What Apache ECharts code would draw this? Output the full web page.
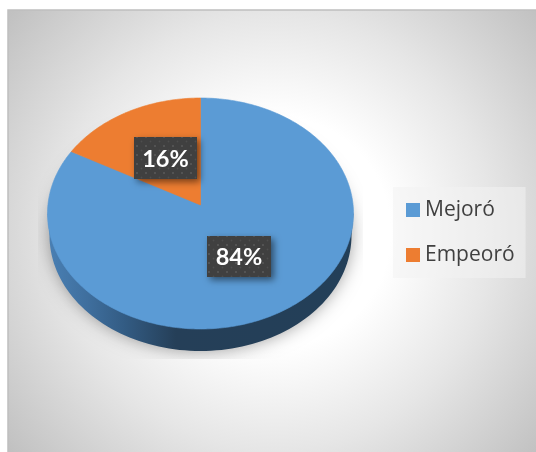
<!DOCTYPE html>
<html><head><meta charset="utf-8">
<style>html,body{margin:0;padding:0;background:#fff}#c{width:536px;height:452px}</style>
<script src="https://cdn.jsdelivr.net/npm/echarts@6/dist/echarts.min.js"></script>
</head><body><div id="c"></div>
<script>
const categories = ['Mejoró', 'Empeoró'];
const values = [84, 16];
const colors = ['#5b9bd5', '#ed7d31'];

const total = values.reduce((a, b) => a + b, 0);
const G = { cx: 200.5, cy: 213.5, rx: 153, ry: 115.5, ax: 200.5, ay: 205, wallCy: 235.5, wallRx: 151 };
const LABEL_BOX = [{ x: 207, y: 236, w: 64, h: 41 }, { x: 134, y: 137, w: 63, h: 42 }];

const tile = document.createElement('canvas');
tile.width = tile.height = 9;
(function () {
  const t = tile.getContext('2d');
  t.fillStyle = '#404040'; t.fillRect(0, 0, 9, 9);
  t.fillStyle = '#585858'; t.beginPath(); t.arc(2, 2, 1.1, 0, 7); t.fill();
  t.fillStyle = '#4e4e4e'; t.beginPath(); t.arc(6.5, 6.5, 0.9, 0, 7); t.fill();
})();

function topPoint(frac) {
  const a = frac * 2 * Math.PI;
  return [G.cx + G.rx * Math.sin(a), G.cy - G.ry * Math.cos(a)];
}
function renderSlice(index) {
  return function (params, api) {
    const before = values.slice(0, index).reduce((a, b) => a + b, 0);
    const val = api.value(0);
    const pts = [[G.ax, G.ay]];
    const steps = Math.max(8, Math.round(val * 4));
    for (let i = 0; i <= steps; i++) pts.push(topPoint((before + val * i / steps) / total));
    const b = LABEL_BOX[index];
    const col = api.visual('color');
    return {
      type: 'group',
      children: [
        { type: 'polygon', shape: { points: pts }, style: { fill: col, stroke: col, lineWidth: 0.6 } },
        { type: 'rect', shape: { x: b.x, y: b.y, width: b.w, height: b.h },
          style: { fill: { image: tile, repeat: 'repeat' }, shadowBlur: 7, shadowColor: 'rgba(0,0,0,0.5)', shadowOffsetX: 3, shadowOffsetY: 3 } },
        { type: 'text', x: b.x + b.w / 2, y: b.y + b.h / 2 + 1,
          style: { text: Math.round(val / total * 100) + '%', fill: '#fff', font: 'bold 23.5px Lato', align: 'center', verticalAlign: 'middle' } }
      ]
    };
  };
}
function renderBase() {
  const pts = [[G.cx + G.rx, G.cy]];
  for (let d = 0; d <= 180; d += 2) {
    const a = d * Math.PI / 180;
    pts.push([G.cx + G.wallRx * Math.cos(a), G.wallCy + G.ry * Math.sin(a)]);
  }
  pts.push([G.cx - G.rx, G.cy]);
  return {
    type: 'group',
    children: [
      { type: 'ellipse', shape: { cx: G.cx, cy: 234, rx: 150, ry: 116 },
        style: { fill: '#9a9a9a', shadowBlur: 18, shadowColor: 'rgba(0,0,0,0.42)' },
        clipPath: { type: 'rect', shape: { x: 38, y: 90, width: 325, height: 269 } } },
      { type: 'polygon', shape: { points: pts },
        style: { fill: { type: 'linear', x: 47, y: 0, x2: 354, y2: 0, global: true, colorStops: [
          { offset: 0, color: '#4a80b4' }, { offset: 0.13, color: '#3f6f9e' }, { offset: 0.25, color: '#335c84' },
          { offset: 0.42, color: '#253f58' }, { offset: 1, color: '#233f58' } ] } } }
    ]
  };
}

const chart = echarts.init(document.getElementById('c'), null, { renderer: 'canvas' });
chart.setOption({
  animation: false,
  graphic: [{
    type: 'rect', z: -100, shape: { x: 8, y: 10, width: 530, height: 444 },
    style: { stroke: '#bfbfbf', lineWidth: 1.5,
      fill: { type: 'radial', x: 275, y: 232, r: 350, global: true, colorStops: [
        { offset: 0, color: '#ffffff' }, { offset: 0.33, color: '#ffffff' }, { offset: 0.62, color: '#e6e6e6' }, { offset: 1, color: '#bfbfbf' } ] } }
  }],
  legend: {
    orient: 'vertical', left: 393, top: 187, padding: [11, 11, 11, 13], itemGap: 21,
    itemWidth: 14, itemHeight: 14, icon: 'rect', backgroundColor: 'rgba(242,242,242,0.55)',
    data: categories, selectedMode: false,
    textStyle: { fontFamily: 'Open Sans', fontSize: 21, lineHeight: 24, color: '#404040' }
  },
  series: [
    { type: 'custom', name: 'base', coordinateSystem: 'none', silent: true, data: [[0]], renderItem: renderBase, z: 1 }
  ].concat(categories.map((name, i) => ({
    type: 'custom', name, coordinateSystem: 'none', silent: true, z: 2 + i,
    itemStyle: { color: colors[i] }, data: [[values[i]]], renderItem: renderSlice(i)
  })))
});
</script></body></html>
